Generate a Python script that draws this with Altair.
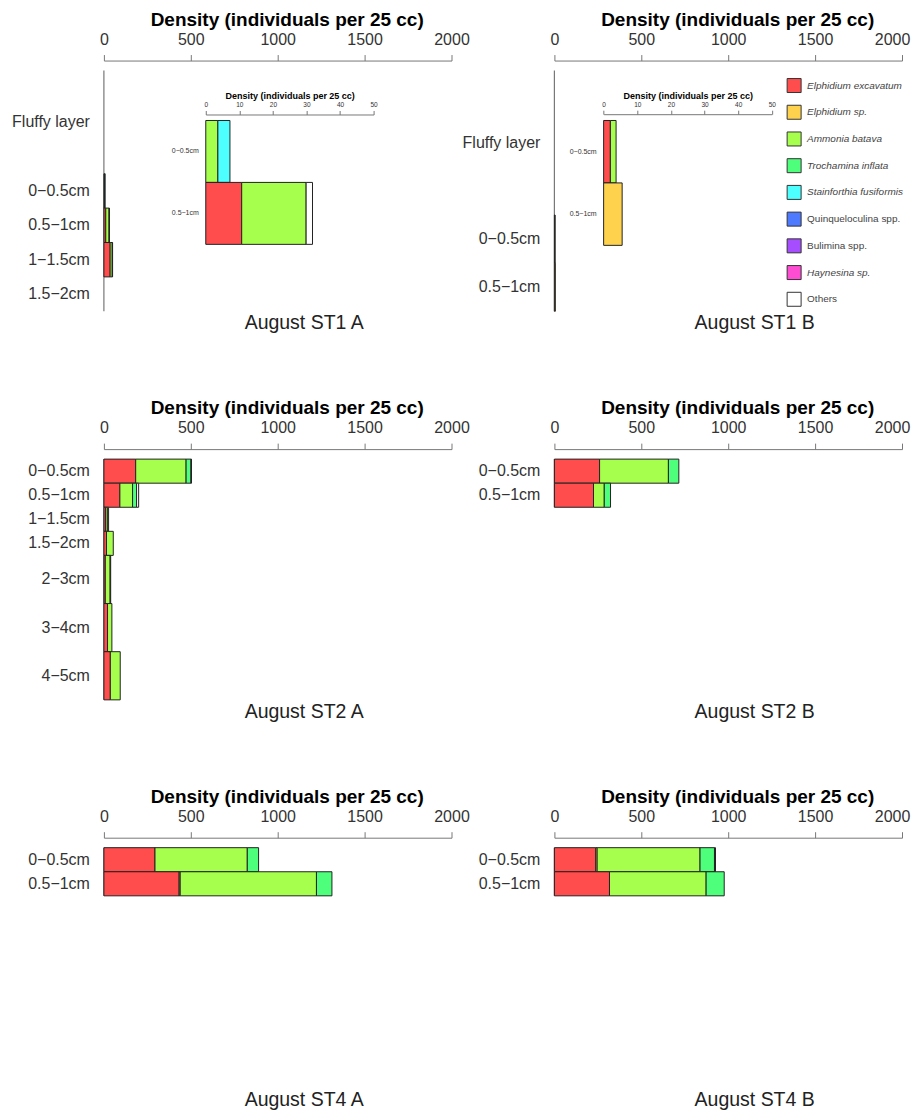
import altair as alt
import pandas as pd

# ---------------- data ----------------
species = [
    "Elphidium excavatum", "Elphidium sp.", "Ammonia batava", "Trochamina inflata",
    "Stainforthia fusiformis", "Quinqueloculina spp.", "Bulimina spp.", "Haynesina sp.", "Others",
]
species_colors = ["#FF4D4D", "#FFD24D", "#A6FF4D", "#4DFF7A", "#4DFFFF",
                  "#4D7AFF", "#A64DFF", "#FF4DD3", "#FFFFFF"]
species_italic = [1, 1, 1, 1, 1, 0, 0, 1, 0]

M = "\u2212"
st1a_layers = ["Fluffy layer", f"0{M}0.5cm", f"0.5{M}1cm", f"1{M}1.5cm", f"1.5{M}2cm"]
st1a_top = [-1.5, 0, 0.5, 1.0, 1.5]
st1a_bottom = [0, 0.5, 1.0, 1.5, 2.0]
st1a_counts = {
    "Elphidium excavatum": [0, 0, 10.7, 36, 0],
    "Ammonia batava": [0, 3.6, 19.2, 12, 0],
    "Stainforthia fusiformis": [0, 3.6, 0, 0, 0],
    "Others": [0, 0, 1.9, 2, 0],
}

st1b_layers = ["Fluffy layer", f"0{M}0.5cm", f"0.5{M}1cm"]
st1b_top = [-1.5, 0, 0.5]
st1b_bottom = [0, 0.5, 1.0]
st1b_counts = {
    "Elphidium excavatum": [0, 2.0, 0],
    "Elphidium sp.": [0, 0, 5.5],
    "Ammonia batava": [0, 1.7, 0],
}

st2a_layers = [f"0{M}0.5cm", f"0.5{M}1cm", f"1{M}1.5cm", f"1.5{M}2cm", f"2{M}3cm", f"3{M}4cm", f"4{M}5cm"]
st2a_top = [0, 0.5, 1.0, 1.5, 2, 3, 4]
st2a_bottom = [0.5, 1.0, 1.5, 2, 3, 4, 5]
st2a_counts = {
    "Elphidium excavatum": [183, 92, 10, 15, 8, 21, 37],
    "Ammonia batava": [290, 73, 10, 39, 28, 25, 57],
    "Trochamina inflata": [28, 23, 0, 0, 0, 0, 0],
    "Others": [3, 12, 7, 0, 3, 0, 0],
}

st2b_layers = [f"0{M}0.5cm", f"0.5{M}1cm"]
st2b_top = [0, 0.5]
st2b_bottom = [0.5, 1.0]
st2b_counts = {
    "Elphidium excavatum": [260, 225],
    "Ammonia batava": [396, 62],
    "Trochamina inflata": [60, 36],
}

st4a_layers = [f"0{M}0.5cm", f"0.5{M}1cm"]
st4a_top = [0, 0.5]
st4a_bottom = [0.5, 1.0]
st4a_counts = {
    "Elphidium excavatum": [294, 433],
    "Elphidium sp.": [0, 6],
    "Ammonia batava": [531, 784],
    "Trochamina inflata": [65, 89],
}

st4b_layers = [f"0{M}0.5cm", f"0.5{M}1cm"]
st4b_top = [0, 0.5]
st4b_bottom = [0.5, 1.0]
st4b_counts = {
    "Elphidium excavatum": [238, 317],
    "Elphidium sp.": [8, 0],
    "Ammonia batava": [592, 556],
    "Trochamina inflata": [83, 104],
    "Others": [6, 0],
}

depth_range_st1a = [-1.5, 2.0]
depth_range_st1b = [-1.5, 1.0]
depth_range_st2 = [0, 5.0]
depth_range_st4 = [0, 5.0]

main_ticks = [0, 500, 1000, 1500, 2000]
inset_ticks = [0, 10, 20, 30, 40, 50]
axis_title = "Density (individuals per 25 cc)"

# ---------------- helpers ----------------
W, H = 348, 241
FONT = "Liberation Sans"
color_scale = alt.Scale(domain=species, range=species_colors)


def segments(layers, tops, bottoms, counts, idx=None):
    rows = []
    idx = range(len(layers)) if idx is None else idx
    for i in idx:
        x0 = 0.0
        for sp in species:
            v = counts.get(sp, [0] * len(layers))[i]
            if v > 0:
                rows.append(dict(layer=layers[i], species=sp, x0=x0, x1=x0 + v,
                                 top=tops[i], bottom=bottoms[i]))
                x0 += v
    return pd.DataFrame(rows)


def row_table(layers, tops, bottoms, idx=None):
    idx = range(len(layers)) if idx is None else idx
    return pd.DataFrame(dict(
        layer=[layers[i] for i in idx],
        top=[tops[i] for i in idx],
        bottom=[bottoms[i] for i in idx],
        mid=[(tops[i] + bottoms[i]) / 2 for i in idx],
    ))


def panel(name, layers, tops, bottoms, counts, drange, inset=None, legend=False,
          anchor=False, right_col=False):
    seg = segments(layers, tops, bottoms, counts)
    rows = row_table(layers, tops, bottoms)
    xs = alt.Scale(domain=[0, 2000], nice=False, zero=True)
    ys = alt.Scale(domain=drange, reverse=True, nice=False, zero=False)
    offset_rule = (alt.ConditionalAxisNumber(condition={"test": "datum.value == 2000", "value": -10},
                                             value=0) if right_col else 0)
    xaxis = alt.Axis(
        orient="top", values=main_ticks, format="d", offset=10, grid=False,
        title=axis_title, titleFontSize=19, titleFontWeight="bold", titleColor="#000",
        titleX=183, titleY=-35.5, titleAlign="center", titleBaseline="alphabetic", titleAngle=0,
        labelFontSize=16, labelColor="#333", labelPadding=7.5, labelFlush=False,
        labelOverlap=False, labelOffset=offset_rule, tickSize=6, tickColor="#777",
        domainColor="#777",
    )
    base = alt.Chart(rows).mark_rule(color="#777", strokeWidth=1.2).encode(
        x=alt.value(0), y=alt.Y("top:Q", scale=ys, axis=None), y2="bottom:Q")
    bars = alt.Chart(seg).mark_rect(stroke="#222", strokeWidth=1).encode(
        x=alt.X("x0:Q", scale=xs, axis=xaxis), x2="x1:Q",
        y=alt.Y("top:Q", scale=ys, axis=None), y2="bottom:Q",
        fill=alt.Fill("species:N", scale=color_scale, legend=None))
    labels = alt.Chart(rows).mark_text(
        align="right", baseline="middle", fontSize=16, color="#333").encode(
        x=alt.value(-14), y=alt.Y("mid:Q", scale=ys, axis=None), text="layer:N")
    cap = alt.Chart(pd.DataFrame({"t": [name]})).mark_text(
        align="center", baseline="middle", fontSize=19.5, color="#222").encode(
        x=alt.value(200.5), y=alt.value(253), text="t:N")
    parts = [base, bars, labels, cap]
    if anchor:
        parts.append(alt.Chart(pd.DataFrame({"a": [0]})).mark_rule(
            strokeOpacity=0, strokeWidth=0.1).encode(
            x=alt.value(-95), x2=alt.value(-95), y=alt.value(-61), y2=alt.value(-60)))
    main = alt.layer(*parts)
    groups = [main]

    if inset is not None:
        ix0, ix1, iy0, iy1, iaxis_y = inset
        idx = [1, 2]
        iseg = segments(layers, tops, bottoms, counts, idx)
        irows = row_table(layers, tops, bottoms, idx)
        ixs = alt.Scale(domain=[0, 50], range=[ix0, ix1], nice=False, zero=True)
        iys = alt.Scale(domain=[0, 1], range=[iy0, iy1], nice=False, zero=False)
        iaxis = alt.Axis(
            orient="top", values=inset_ticks, offset=-iaxis_y, grid=False,
            title=axis_title, titleFontSize=9, titleFontWeight="bold", titleColor="#000",
            titleX=(ix0 + ix1) / 2, titleY=-16, titleAlign="center",
            titleBaseline="alphabetic", titleAngle=0,
            labelFontSize=6.5, labelColor="#333", labelPadding=3, labelFlush=False,
            labelOverlap=False, tickSize=4, tickColor="#777", domainColor="#777",
        )
        ibars = alt.Chart(iseg).mark_rect(stroke="#222", strokeWidth=1).encode(
            x=alt.X("x0:Q", scale=ixs, axis=iaxis), x2="x1:Q",
            y=alt.Y("top:Q", scale=iys, axis=None), y2="bottom:Q",
            fill=alt.Fill("species:N", scale=color_scale, legend=None))
        ilabels = alt.Chart(irows).mark_text(
            align="right", baseline="middle", fontSize=7, color="#333").encode(
            x=alt.value(ix0 - 7), y=alt.Y("mid:Q", scale=iys, axis=None), text="layer:N")
        groups.append(alt.layer(ibars, ilabels))

    if legend:
        leg = pd.DataFrame(dict(species=species, idx=list(range(len(species))),
                                italic=species_italic))
        lys = alt.Scale(domain=[0, len(species) - 1], range=[15, 229], nice=False, zero=False)
        sq = alt.Chart(leg).mark_square(size=196, stroke="#333", strokeWidth=1, opacity=1).encode(
            x=alt.value(240), y=alt.Y("idx:Q", scale=lys, axis=None),
            fill=alt.Fill("species:N", scale=color_scale, legend=None))
        t_it = alt.Chart(leg).transform_filter("datum.italic == 1").mark_text(
            align="left", baseline="middle", fontSize=10, fontStyle="italic", color="#444").encode(
            x=alt.value(253), y=alt.Y("idx:Q", scale=lys, axis=None), text="species:N")
        t_no = alt.Chart(leg).transform_filter("datum.italic == 0").mark_text(
            align="left", baseline="middle", fontSize=10, color="#444").encode(
            x=alt.value(253), y=alt.Y("idx:Q", scale=lys, axis=None), text="species:N")
        groups.append(alt.layer(sq, t_it, t_no))

    if len(groups) == 1:
        return main.properties(width=W, height=H)
    return alt.layer(*groups).resolve_scale(x="independent", y="independent").properties(
        width=W, height=H)


p1a = panel("August ST1 A", st1a_layers, st1a_top, st1a_bottom, st1a_counts, depth_range_st1a,
            inset=(102, 270, 50, 174, 44), anchor=True)
p1b = panel("August ST1 B", st1b_layers, st1b_top, st1b_bottom, st1b_counts, depth_range_st1b,
            inset=(49.3, 217.7, 50, 175, 43.7), legend=True, right_col=True)
p2a = panel("August ST2 A", st2a_layers, st2a_top, st2a_bottom, st2a_counts, depth_range_st2)
p2b = panel("August ST2 B", st2b_layers, st2b_top, st2b_bottom, st2b_counts, depth_range_st2,
            right_col=True)
p4a = panel("August ST4 A", st4a_layers, st4a_top, st4a_bottom, st4a_counts, depth_range_st4)
p4b = panel("August ST4 B", st4b_layers, st4b_top, st4b_bottom, st4b_counts, depth_range_st4,
            right_col=True)

chart = alt.concat(
    p1a, p1b, p2a, p2b, p4a, p4b, columns=2,
    spacing={"row": 148, "column": 103}, bounds="flush",
).properties(padding=0).configure(font=FONT).configure_view(stroke="transparent")

chart.save("out.html", embed_options={"renderer": "svg", "actions": False})
